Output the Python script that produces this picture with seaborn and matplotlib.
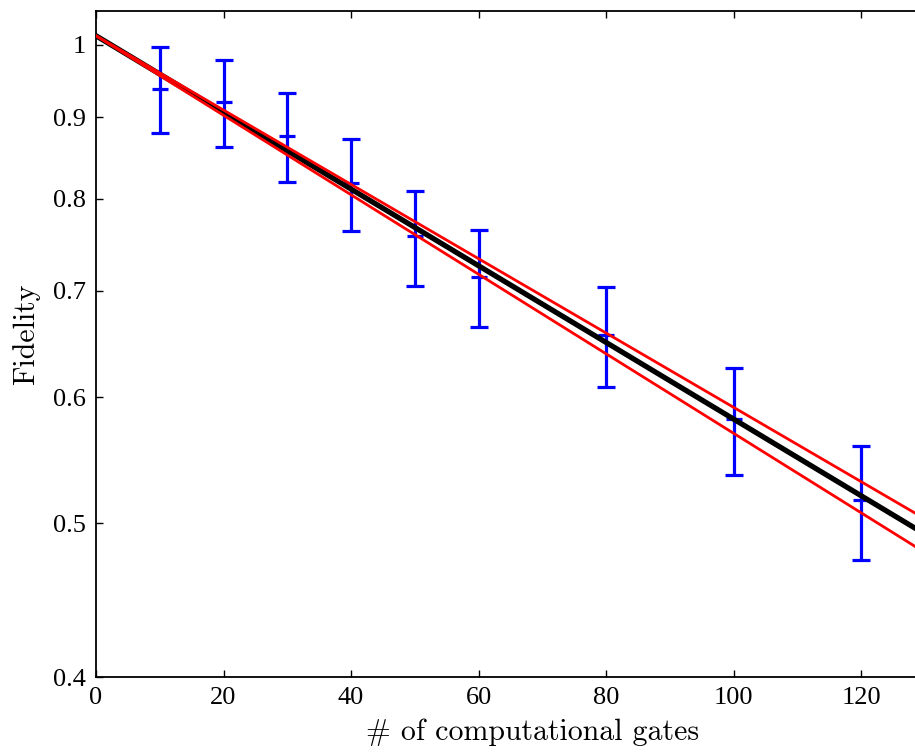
import matplotlib
matplotlib.use("Agg")
import matplotlib.pyplot as plt
import seaborn as sns
import numpy as np
import pandas as pd
from matplotlib.ticker import FixedLocator, FixedFormatter, NullLocator

# ---- data ----
gates = [10, 20, 30, 40, 50, 60, 80, 100, 120]
fidelity = [0.938, 0.920, 0.876, 0.818, 0.758, 0.714, 0.657, 0.581, 0.517]
fid_upper = [0.997, 0.978, 0.932, 0.872, 0.809, 0.765, 0.704, 0.626, 0.559]
fid_lower = [0.880, 0.862, 0.819, 0.763, 0.705, 0.664, 0.609, 0.536, 0.474]

fit_x = [0, 130]
fit_mid = [1.013, 0.492]
fit_hi = [1.013, 0.503]
fit_lo = [1.013, 0.479]

y_ticks = [0.4, 0.5, 0.6, 0.7, 0.8, 0.9, 1.0]
y_tick_labels = ["0.4", "0.5", "0.6", "0.7", "0.8", "0.9", "1"]
x_ticks = [0, 20, 40, 60, 80, 100, 120]
x_tick_labels = ["0", "20", "40", "60", "80", "100", "120"]

sns.set_theme(style="ticks")
plt.rcParams["font.family"] = ["Liberation Serif", "DejaVu Serif"]

fig = plt.figure(figsize=(9.15, 7.52), dpi=100)
W, H = 915, 752
ax = fig.add_axes([96 / W, 1 - 677 / H, 829 / W, (677 - 11) / H])

fid = np.array(fidelity)
yerr = [fid - np.array(fid_lower), np.array(fid_upper) - fid]
ax.errorbar(gates, fidelity, yerr=yerr, fmt="_", color=(0, 0, 1),
            ecolor=(0, 0, 1), elinewidth=2.3, capsize=6.5, capthick=2.3,
            markersize=11, mew=2.3, zorder=2)

fit_df = pd.DataFrame({"x": fit_x * 3,
                       "y": fit_mid + fit_hi + fit_lo,
                       "kind": ["fit"] * 2 + ["hi"] * 2 + ["lo"] * 2})
sns.lineplot(data=fit_df[fit_df.kind == "fit"], x="x", y="y", color="black",
             linewidth=3.8, ax=ax, zorder=3, estimator=None)
sns.lineplot(data=fit_df[fit_df.kind != "fit"], x="x", y="y", units="kind",
             estimator=None, color=(1, 0, 0), linewidth=2.0, ax=ax, zorder=4)

ax.set_yscale("log")
ax.set_xlim(0, 130)
ax.set_ylim(0.4, 1.05)
ax.yaxis.set_major_locator(FixedLocator(y_ticks))
ax.yaxis.set_major_formatter(FixedFormatter(y_tick_labels))
ax.yaxis.set_minor_locator(NullLocator())
ax.xaxis.set_major_locator(FixedLocator(x_ticks))
ax.xaxis.set_major_formatter(FixedFormatter(x_tick_labels))

ax.tick_params(direction="in", length=5, width=1.0, top=True, right=True,
               labelsize=19, colors="black", pad=7)
for lab in ax.get_xticklabels() + ax.get_yticklabels():
    lab.set_fontfamily(["Liberation Serif", "DejaVu Serif"])
for sp in ax.spines.values():
    sp.set_linewidth(1.3)
    sp.set_color("black")

ax.set_xlabel("# of computational gates", fontfamily="cmr10", fontsize=21.5,
              color="black")
ax.set_ylabel("Fidelity", fontfamily="cmr10", fontsize=21.5, color="black")
ax.xaxis.set_label_coords((533 - 96) / 829, -0.063)
ax.yaxis.set_label_coords(-0.068, 0.515)

fig.savefig("out.png", dpi=100)
